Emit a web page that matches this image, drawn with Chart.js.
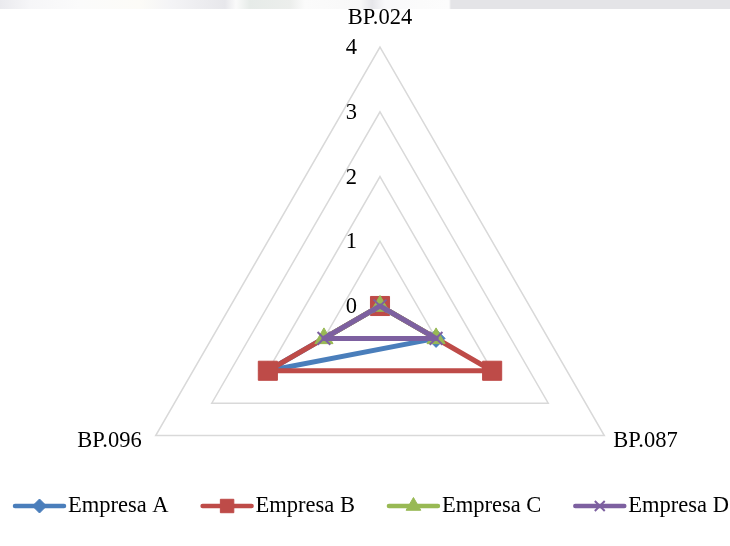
<!DOCTYPE html>
<html>
<head>
<meta charset="utf-8">
<title>Empresas – BP.024 / BP.087 / BP.096</title>
<script src="https://cdn.jsdelivr.net/npm/chart.js@4.4.1/dist/chart.umd.min.js"></script>
<style>
  html, body { margin: 0; padding: 0; background: #ffffff; }
  #wrap { position: relative; width: 730px; height: 546px; overflow: hidden; }
  #wrap canvas { position: absolute; left: 0; top: 0; }
  #strip {
    position: absolute; left: 0; top: 0; width: 730px; height: 9px;
    background: linear-gradient(to right,
      #eaeaee 0px, #f6f6f8 30px, #fbfbfb 80px, #fcfbf7 140px, #f4f4f6 170px,
      #e7e7eb 225px, #fafafa 236px, #e6ebe8 250px, #eceeec 290px, #fbfbfb 305px,
      #f8f8f8 360px, #e6e6ea 372px, #f9f9fb 385px, #fbfbfb 420px, #fcfcfc 449px,
      #e4e4e7 451px, #e4e4e7 730px);
  }
</style>
</head>
<body>
<div id="wrap">
  <canvas id="radar" width="730" height="546"></canvas>
  <div id="strip"></div>
</div>
<script>
// Axes of the radar and the scores of each company on them
const categories = ['BP.024', 'BP.087', 'BP.096'];
const seriesNames = ['Empresa A', 'Empresa B', 'Empresa C', 'Empresa D'];
const empresaA = [0, 1, 2];
const empresaB = [0, 2, 2];
const empresaC = [0, 1, 1];
const empresaD = [0, 1, 1];
const tickLabels = ['0', '1', '2', '3', '4'];

const seriesColors = ['#4A7EBB', '#BE4B48', '#98B954', '#7D60A0'];
const seriesMarkers = ['rectRot', 'rect', 'triangle', 'crossRot'];

const FONT = '22.5px "Liberation Serif", "Times New Roman", serif';
const PLOT = { cx: 380, cy: 306, r: 259 };

function makeDataset(label, data, idx, radius, order) {
  const color = seriesColors[idx];
  const cross = seriesMarkers[idx] === 'crossRot';
  return {
    label,
    data,
    borderColor: color,
    backgroundColor: color,
    borderWidth: 5,
    borderJoinStyle: 'round',
    fill: false,
    pointStyle: seriesMarkers[idx],
    pointRadius: radius,
    pointHoverRadius: radius,
    pointBackgroundColor: color,
    pointBorderColor: color,
    pointBorderWidth: cross ? 2 : 1,
    order
  };
}

// Tick values beside the vertical axis and the category names at the corners
const axisText = {
  id: 'axisText',
  afterDraw(chart) {
    const s = chart.scales.r;
    const ctx = chart.ctx;
    ctx.save();
    ctx.font = FONT;
    ctx.fillStyle = '#000000';
    ctx.textBaseline = 'alphabetic';
    ctx.textAlign = 'right';
    tickLabels.forEach((t) => {
      const p = s.getPointPositionForValue(0, Number(t));
      ctx.fillText(t, p.x - 23, p.y + 7);
    });
    categories.forEach((c, i) => {
      const p = s.getPointPosition(i, s.drawingArea);
      const sx = Math.sin(s.getIndexAngle(i));
      if (Math.abs(sx) < 0.01) {
        ctx.textAlign = 'center';
        ctx.fillText(c, p.x, p.y - 23);
      } else if (sx > 0) {
        ctx.textAlign = 'left';
        ctx.fillText(c, p.x + 9, p.y + 11);
      } else {
        ctx.textAlign = 'right';
        ctx.fillText(c, p.x - 14, p.y + 11);
      }
    });
    ctx.restore();
  }
};

// Legend row: a short line with the series marker, then the company name
const legendRow = {
  id: 'legendRow',
  afterDraw(chart) {
    const ctx = chart.ctx;
    const y = 506;
    const lineLen = 53;
    const markerRadius = [7, 9.5, 8.5, 7];
    let x = 13;
    ctx.save();
    ctx.font = FONT;
    chart.data.datasets.forEach((ds, i) => {
      const color = ds.borderColor;
      ctx.strokeStyle = color;
      ctx.fillStyle = color;
      ctx.lineWidth = 4.5;
      ctx.lineCap = 'round';
      ctx.beginPath();
      ctx.moveTo(x + 2, y);
      ctx.lineTo(x + lineLen - 2, y);
      ctx.stroke();
      ctx.lineCap = 'butt';
      ctx.lineWidth = ds.pointStyle === 'crossRot' ? 2 : 1;
      Chart.helpers.drawPoint(ctx, {
        pointStyle: ds.pointStyle,
        rotation: 0,
        radius: markerRadius[i],
        borderWidth: ctx.lineWidth
      }, x + lineLen / 2, y);
      ctx.fillStyle = '#000000';
      ctx.textAlign = 'left';
      ctx.textBaseline = 'middle';
      const tx = x + lineLen + 2;
      ctx.fillText(ds.label, tx, y);
      x = tx + ctx.measureText(ds.label).width + 32;
    });
    ctx.restore();
  }
};

new Chart(document.getElementById('radar'), {
  type: 'radar',
  data: {
    labels: categories,
    datasets: [
      makeDataset(seriesNames[0], empresaA, 0, 9, 3),
      makeDataset(seriesNames[1], empresaB, 1, 13.5, 2),
      makeDataset(seriesNames[2], empresaC, 2, 10.5, 1),
      makeDataset(seriesNames[3], empresaD, 3, 9, 0)
    ]
  },
  options: {
    responsive: false,
    animation: false,
    events: [],
    elements: { line: { tension: 0 } },
    plugins: {
      legend: { display: false },
      tooltip: { enabled: false }
    },
    scales: {
      r: {
        min: 0,
        max: 4,
        ticks: { stepSize: 1, display: false },
        pointLabels: { display: false },
        angleLines: { display: false },
        grid: { circular: false, color: '#d9d9d9', lineWidth: 1.5 },
        afterFit(scale) {
          scale.xCenter = PLOT.cx;
          scale.yCenter = PLOT.cy;
          scale.drawingArea = PLOT.r;
        }
      }
    }
  },
  plugins: [axisText, legendRow]
});
</script>
</body>
</html>
